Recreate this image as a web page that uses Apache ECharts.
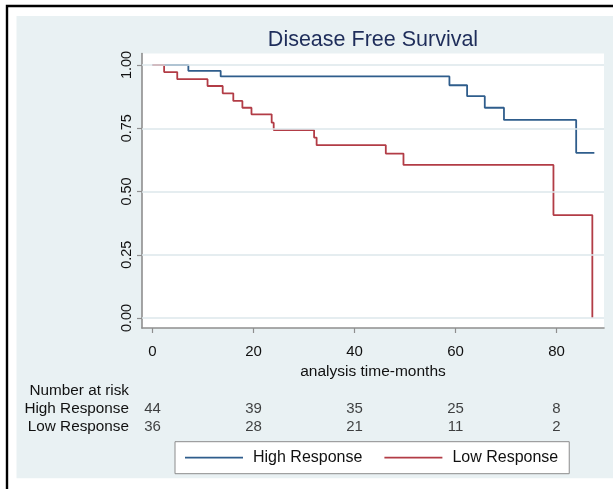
<!DOCTYPE html>
<html>
<head>
<meta charset="utf-8">
<script src="https://cdn.jsdelivr.net/npm/echarts@6/dist/echarts.min.js"></script>
<style>
html,body{margin:0;padding:0;background:#fff;}
#c{width:613px;height:489px;}
</style>
</head>
<body>
<div id="c"></div>
<script>
// ---- data ----
const titleText = 'Disease Free Survival';
const xTitle = 'analysis time-months';
const seriesNames = ['High Response', 'Low Response'];

const timesHigh = [0, 7.1, 13.5, 58.8, 62.3, 65.8, 69.6, 83.9, 87.5];
const survHigh  = [1, 0.977, 0.955, 0.920, 0.877, 0.831, 0.783, 0.653, 0.653];

const timesLow = [0, 2.3, 4.9, 10.9, 13.9, 16.0, 17.8, 19.6, 23.6, 24.0, 32.0, 32.5, 46.2, 49.7, 79.4, 87.1];
const survLow  = [1, 0.972, 0.944, 0.917, 0.888, 0.858, 0.831, 0.805, 0.772, 0.743, 0.713, 0.683, 0.650, 0.605, 0.407, 0];

const xTicks = [0, 20, 40, 60, 80];
const yTicks = [0, 0.25, 0.5, 0.75, 1];

const riskTimes = [0, 20, 40, 60, 80];
const riskHigh = [44, 39, 35, 25, 8];
const riskLow  = [36, 28, 21, 11, 2];
const riskRows = ['Low Response', 'High Response', 'Number at risk'];

// ---- styles ----
const FONT = "'Liberation Sans', Arial, Helvetica, sans-serif";
const BLUE = '#2F5D8C';
const RED = '#B23C46';
const BG = '#E9F1F3';
const GRID = '#DCE7EB';
const AXIS = '#8E8E8E';
const XMIN = -2.08, XMAX = 89.41;
const YMIN = -0.0395, YMAX = 1.0455;

const chart = echarts.init(document.getElementById('c'), null, {renderer: 'canvas'});

const zip = (a, b) => a.map((v, i) => [v, b[i]]);

const riskData = [];
riskTimes.forEach((t, i) => {
  riskData.push([t, 'High Response', riskHigh[i]]);
  riskData.push([t, 'Low Response', riskLow[i]]);
});

chart.setOption({
  animation: false,
  backgroundColor: '#ffffff',
  textStyle: {fontFamily: FONT},
  graphic: [
    {type: 'rect', z: -10, shape: {x: 7, y: 6, width: 640, height: 520},
     style: {fill: '#ffffff', stroke: '#000000', lineWidth: 2.4}},
    {type: 'rect', z: -9, shape: {x: 16.5, y: 16, width: 620, height: 462.3},
     style: {fill: BG}},
    {type: 'text', z: 10, x: 373, y: 40.5,
     style: {text: titleText, fontSize: 21.5, fontFamily: FONT, fill: '#1E2D5A',
             align: 'center', verticalAlign: 'middle'}}
  ],
  legend: {
    data: seriesNames.map(n => ({name: n, icon: 'rect'})),
    left: 175, top: 441.7,
    orient: 'horizontal',
    itemWidth: 58, itemHeight: 1.8, itemGap: 22,
    padding: [8, 11, 8, 10],
    backgroundColor: '#ffffff',
    borderColor: '#8c8c8c', borderWidth: 1,
    textStyle: {fontSize: 16, color: '#111', fontFamily: FONT, padding: [0, 0, 0, 5]}
  },
  grid: [
    {left: 142, right: 9, top: 53.5, bottom: 161, show: true, backgroundColor: '#ffffff', borderWidth: 0},
    {left: 142, right: 9, top: 381.5, height: 54.9, show: false}
  ],
  xAxis: [
    {
      type: 'value', gridIndex: 0, min: XMIN, max: XMAX,
      name: xTitle, nameLocation: 'middle', nameGap: 33,
      nameTextStyle: {fontSize: 15.5, color: '#111', fontFamily: FONT},
      axisLine: {show: true, onZero: false, lineStyle: {color: AXIS, width: 1.6}},
      axisTick: {show: true, length: 5, customValues: xTicks, lineStyle: {color: AXIS, width: 1.2}},
      axisLabel: {show: true, customValues: xTicks, margin: 16, fontSize: 15, color: '#111', fontFamily: FONT,
                  formatter: v => String(Math.round(v))},
      splitLine: {show: false}
    },
    {
      type: 'value', gridIndex: 1, min: XMIN, max: XMAX, show: false
    }
  ],
  yAxis: [
    {
      type: 'value', gridIndex: 0, min: YMIN, max: YMAX,
      axisLine: {show: true, onZero: false, lineStyle: {color: AXIS, width: 1.6}},
      axisTick: {show: true, length: 5, customValues: yTicks, lineStyle: {color: AXIS, width: 1.2}},
      axisLabel: {show: true, customValues: yTicks, rotate: 90, margin: 8, fontSize: 14.5, color: '#111', fontFamily: FONT,
                  formatter: v => v.toFixed(2)},
      splitLine: {show: false}
    },
    {
      type: 'category', gridIndex: 1, data: riskRows,
      axisLine: {show: false}, axisTick: {show: false}, splitLine: {show: false},
      axisLabel: {show: true, interval: 0, margin: 13, fontSize: 15.3, color: '#111', fontFamily: FONT}
    }
  ],
  series: [
    {
      type: 'line', name: '_grid', xAxisIndex: 0, yAxisIndex: 0, data: [], z: 1,
      silent: true,
      markLine: {
        silent: true, symbol: ['none', 'none'], label: {show: false},
        lineStyle: {color: GRID, width: 1.6, type: 'solid'},
        data: yTicks.map(v => ({yAxis: v}))
      }
    },
    {
      type: 'line', name: seriesNames[0], xAxisIndex: 0, yAxisIndex: 0, z: 3,
      data: zip(timesHigh, survHigh), step: 'end', symbol: 'none', showSymbol: false,
      color: BLUE, lineStyle: {color: BLUE, width: 1.8}
    },
    {
      type: 'line', name: seriesNames[1], xAxisIndex: 0, yAxisIndex: 0, z: 3,
      data: zip(timesLow, survLow), step: 'end', symbol: 'none', showSymbol: false,
      color: RED, lineStyle: {color: RED, width: 1.8}
    },
    {
      type: 'scatter', name: '_risk', xAxisIndex: 1, yAxisIndex: 1,
      data: riskData, symbolSize: 0, silent: true,
      label: {show: true, position: 'inside', fontSize: 15, color: '#111', fontFamily: FONT,
              formatter: p => String(p.value[2])}
    }
  ]
});
</script>
</body>
</html>
